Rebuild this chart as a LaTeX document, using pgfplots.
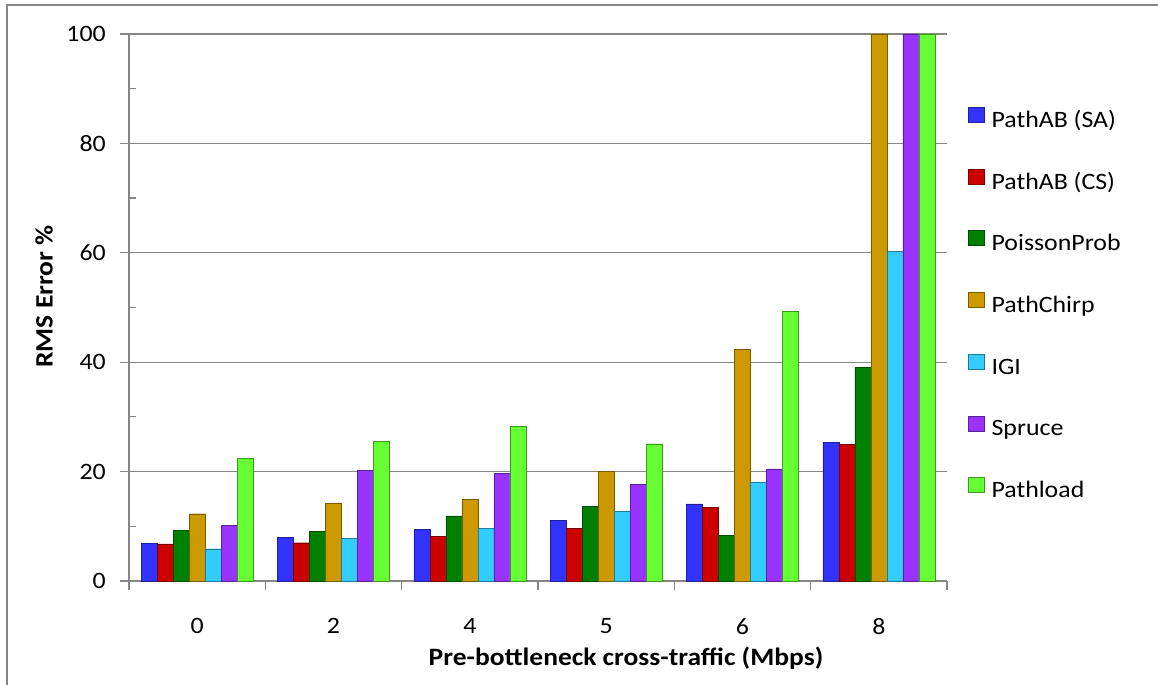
\documentclass[border=0pt]{standalone}
\usepackage{pgfplots}
\pgfplotsset{compat=1.18}
\usepackage{fontspec}
\setmainfont{Carlito}[FakeStretch=1.1]
\definecolor{axgray}{RGB}{134,134,134}
\definecolor{cSA}{RGB}{51,51,255}
\definecolor{cCS}{RGB}{204,0,0}
\definecolor{cPP}{RGB}{0,128,0}
\definecolor{cPC}{RGB}{204,153,0}
\definecolor{cIGI}{RGB}{51,204,255}
\definecolor{cSP}{RGB}{153,51,255}
\definecolor{cPL}{RGB}{102,255,51}
\begin{document}
\begin{tikzpicture}[font=\fontsize{23.5bp}{28bp}\selectfont]
\useasboundingbox (-129bp,-104bp) rectangle (1029bp,581bp);
\draw[axgray, line width=1.2bp] (-122bp,-104bp) -- (-122bp,576bp) -- (1029bp,576bp);
\begin{axis}[
  width=818bp, height=547bp, scale only axis,
  xmin=-0.5, xmax=5.5, ymin=0, ymax=100,
  ybar=0pt, bar width=16bp,
  axis x line=bottom, axis y line=left,
  axis line style={axgray, line width=1.2bp, -},
  /pgf/number format/assume math mode=true,
  xtick={-0.5,0.5,1.5,2.5,3.5,4.5,5.5}, xticklabels={},
  extra x ticks={0,1,2,3,4,5},
  extra x tick labels={0,2,4,5,6,8},
  extra x tick style={major tick length=0pt, xmajorgrids=false},
  ytick={0,20,40,60,80,100},
  minor y tick num=1,
  tick align=outside,
  major tick length=9bp, minor tick length=7bp,
  tick style={axgray, line width=1.2bp},
  minor tick style={xshift=7bp},
  ymajorgrids,
  major grid style={axgray, line width=1.2bp},
  yticklabel style={anchor=east, inner sep=0pt, xshift=-14bp},
  xticklabel style={anchor=north, inner sep=0pt, yshift=-37bp},
  xlabel={\fontsize{25bp}{30bp}\selectfont\bfseries Pre-bottleneck cross-traffic (Mbps)},
  ylabel={\fontsize{25bp}{30bp}\selectfont\bfseries RMS Error \%},
  xlabel style={at={(axis description cs:0.6076,-0.1408)}, anchor=center, inner sep=0pt},
  ylabel style={at={(axis description cs:-0.1039,0.52)}, anchor=center, inner sep=0pt},
  legend style={draw=none, fill=none, at={(1.0257,0.8665)}, anchor=north west,
    inner sep=0pt, outer sep=0pt, row sep=36.4bp, column sep=7bp,
    nodes={inner sep=0pt, text height=16bp, text depth=5bp}},
  legend cell align=left,
  legend image code/.code={\draw[#1, line width=0.6bp] (0bp,-0.5bp) rectangle (16bp,14.5bp);},
]
\addplot[fill=cSA, draw=cSA!60!black, line width=0.4bp] coordinates {(0,6.9) (1,8.0) (2,9.4) (3,11.1) (4,14.1) (5,25.4)};
\addplot[fill=cCS, draw=cCS!60!black, line width=0.4bp] coordinates {(0,6.8) (1,7.0) (2,8.2) (3,9.6) (4,13.5) (5,25.0)};
\addplot[fill=cPP, draw=cPP!60!black, line width=0.4bp] coordinates {(0,9.3) (1,9.1) (2,11.9) (3,13.7) (4,8.4) (5,39.1)};
\addplot[fill=cPC, draw=cPC!60!black, line width=0.4bp] coordinates {(0,12.3) (1,14.2) (2,14.9) (3,20.1) (4,42.3) (5,100)};
\addplot[fill=cIGI, draw=cIGI!60!black, line width=0.4bp] coordinates {(0,5.9) (1,7.8) (2,9.6) (3,12.7) (4,18.1) (5,60.3)};
\addplot[fill=cSP, draw=cSP!60!black, line width=0.4bp] coordinates {(0,10.2) (1,20.2) (2,19.7) (3,17.7) (4,20.5) (5,100)};
\addplot[fill=cPL, draw=cPL!60!black, line width=0.4bp] coordinates {(0,22.4) (1,25.5) (2,28.3) (3,25.1) (4,49.3) (5,100)};
\legend{PathAB (SA), PathAB (CS), PoissonProb, PathChirp, IGI, Spruce, Pathload}
\end{axis}
\end{tikzpicture}
\end{document}
